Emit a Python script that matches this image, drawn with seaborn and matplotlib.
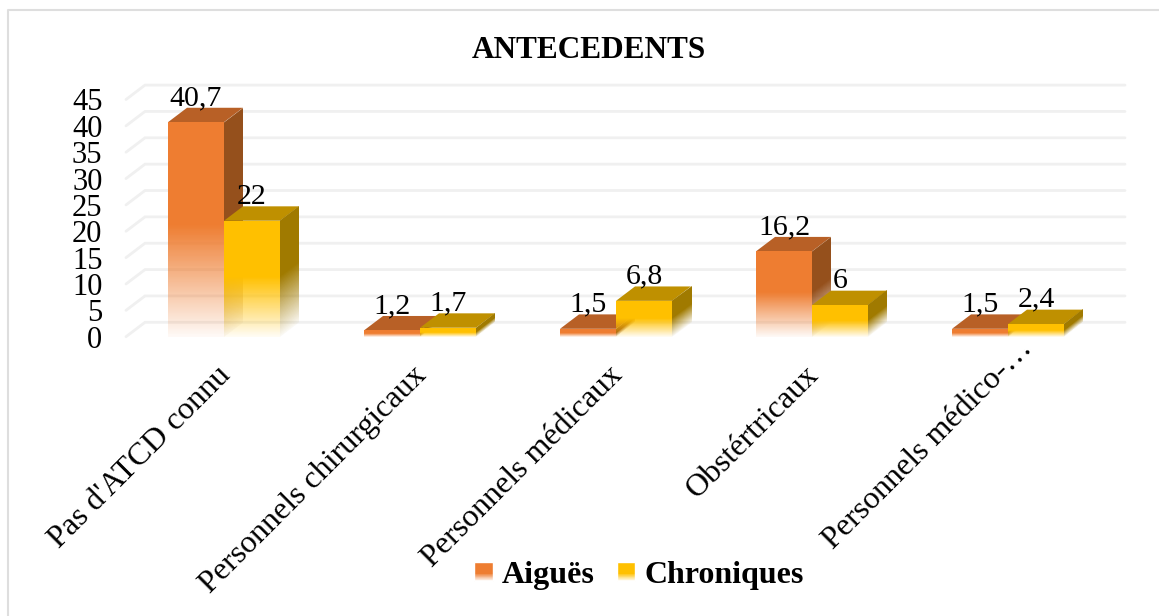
import numpy as np
import pandas as pd
import matplotlib
matplotlib.use('Agg')
import matplotlib.pyplot as plt
from matplotlib.lines import Line2D
from matplotlib.patches import Polygon
from matplotlib.transforms import Affine2D, ScaledTranslation
from matplotlib.colors import to_rgb
import seaborn as sns

categories = ["Pas d'ATCD connu", "Personnels chirurgicaux", "Personnels médicaux",
              "Obstértricaux", "Personnels médico-…"]
aigues = [40.7, 1.2, 1.5, 16.2, 1.5]
chroniques = [22, 1.7, 6.8, 6, 2.4]
series_names = ['Aiguës', 'Chroniques']
yticks = list(range(0, 50, 5))

front_colors = ['#EE7D31', '#FFC000']
top_colors = ['#B86026', '#BF9000']
side_colors = ['#95501C', '#A07A00']
grid_color = '#F0F0F0'
frame_color = '#DEDEDE'

# depth of the fake 3D, in data units
depth_x = 19 / 196
depth_y = 14.4 / 5.27

data = pd.DataFrame({
    'categorie': categories * 2,
    'valeur': aigues + chroniques,
    'serie': [series_names[0]] * 5 + [series_names[1]] * 5,
})

sns.set_theme(style='white')
plt.rcParams['font.family'] = ['Liberation Serif', 'DejaVu Serif']

fig = plt.figure(figsize=(11.59, 6.16), dpi=100)
fig.add_artist(Line2D([7.5 / 1159, 7.5 / 1159, 1], [0, 1 - 9.5 / 616, 1 - 9.5 / 616],
                      transform=fig.transFigure, color=frame_color, lw=1.5))
ax = fig.add_axes([126 / 1159, 1 - 336.7 / 616, 980 / 1159, 237.2 / 616])

sns.barplot(data=data, x='categorie', y='valeur', hue='serie', palette=front_colors,
            width=0.571, gap=0, saturation=1, ax=ax)


def fade(color, n=256):
    # solid on top half, fading out to the floor
    t = np.linspace(1, 0, n)
    img = np.zeros((n, 1, 4))
    img[:, :, :3] = to_rgb(color)
    img[:, 0, 3] = np.clip(0.04 + 0.96 * t / 0.52, 0, 1)
    return img


slope = depth_y / depth_x
for i, container in enumerate(ax.containers):
    z = 3 + i
    for bar in container:
        x0 = bar.get_x()
        x1 = x0 + bar.get_width()
        v = bar.get_height()
        bar.set_facecolor('none')
        bar.set_edgecolor('none')
        # top face
        ax.add_patch(Polygon([(x0, v), (x1, v), (x1 + depth_x, v + depth_y), (x0 + depth_x, v + depth_y)],
                             closed=True, facecolor=top_colors[i], edgecolor='none', zorder=z, clip_on=False))
        # side face, a sheared gradient
        side = ax.imshow(fade(side_colors[i]), extent=(x1, x1 + depth_x, 0, v), aspect='auto',
                         interpolation='nearest', zorder=z, clip_on=False)
        side.set_transform(Affine2D().from_values(1, slope, 0, 1, 0, -slope * x1) + ax.transData)
        # front face
        ax.imshow(fade(front_colors[i]), extent=(x0, x1, 0, v), aspect='auto',
                  interpolation='nearest', zorder=z + 0.5, clip_on=False)
        label = f'{v:g}'.replace('.', ',')
        ax.annotate(label, (bar.get_x() + bar.get_width() / 2, v + depth_y), xytext=(0, 2),
                    textcoords='offset points', ha='center', va='baseline', fontsize=21.5,
                    color='black', zorder=10, annotation_clip=False)

ax.set_xlim(-0.5, 4.5)
ax.set_ylim(0, 45)

# floor / wall grid
for t in yticks:
    ax.plot([-0.5, -0.5 + depth_x, 4.5 + depth_x], [t, t + depth_y, t + depth_y],
            color=grid_color, lw=2, zorder=1, clip_on=False, solid_joinstyle='miter')

sns.despine(ax=ax, left=True, bottom=True)
ax.grid(False)
ax.set_xlabel('')
ax.set_ylabel('')
ax.set_yticks(yticks)
ax.tick_params(axis='y', length=0, pad=17, labelsize=22, labelcolor='black')
ax.tick_params(axis='x', length=0, pad=18)
ax.set_xticks(range(len(categories)))
ax.set_xticklabels(categories, rotation=45, ha='right', rotation_mode='anchor',
                   fontsize=23, color='black')
# the last label overflows its slot in the original
for tick_label, (px, py) in zip(ax.get_xticklabels(), [(-8, 1)] * 4 + [(10, 28)]):
    shift = ScaledTranslation(px / 100, py / 100, fig.dpi_scale_trans)
    tick_label.set_transform(tick_label.get_transform() + shift)

fig.text(589 / 1159, 1 - 50 / 616, 'ANTECEDENTS', ha='center', va='center',
         fontsize=22.5, fontweight='bold', color='black')

sns.move_legend(ax, 'center', bbox_to_anchor=(639 / 1159, 1 - 575 / 616),
                bbox_transform=fig.transFigure, ncol=2, frameon=False, title=None,
                prop={'size': 23, 'weight': 'bold'}, labelcolor='black', handlelength=0.58,
                handleheight=0.53, handletextpad=0.28, columnspacing=0.7)

# white fade on the lower part of the legend keys
fig.canvas.draw()
leg = ax.get_legend()
for handle in leg.get_patches():
    box = handle.get_window_extent()
    w, h = fig.get_size_inches() * fig.dpi
    a = fig.add_axes([box.x0 / w, box.y0 / h, box.width / w, box.height / h], zorder=20)
    a.axis('off')
    t = np.linspace(0, 1, 64)
    img = np.ones((64, 1, 4))
    img[:, 0, 3] = np.clip((t - 0.6) / 0.4, 0, 1)
    a.imshow(img, aspect='auto', interpolation='nearest')

fig.savefig('out.png', dpi=100)
